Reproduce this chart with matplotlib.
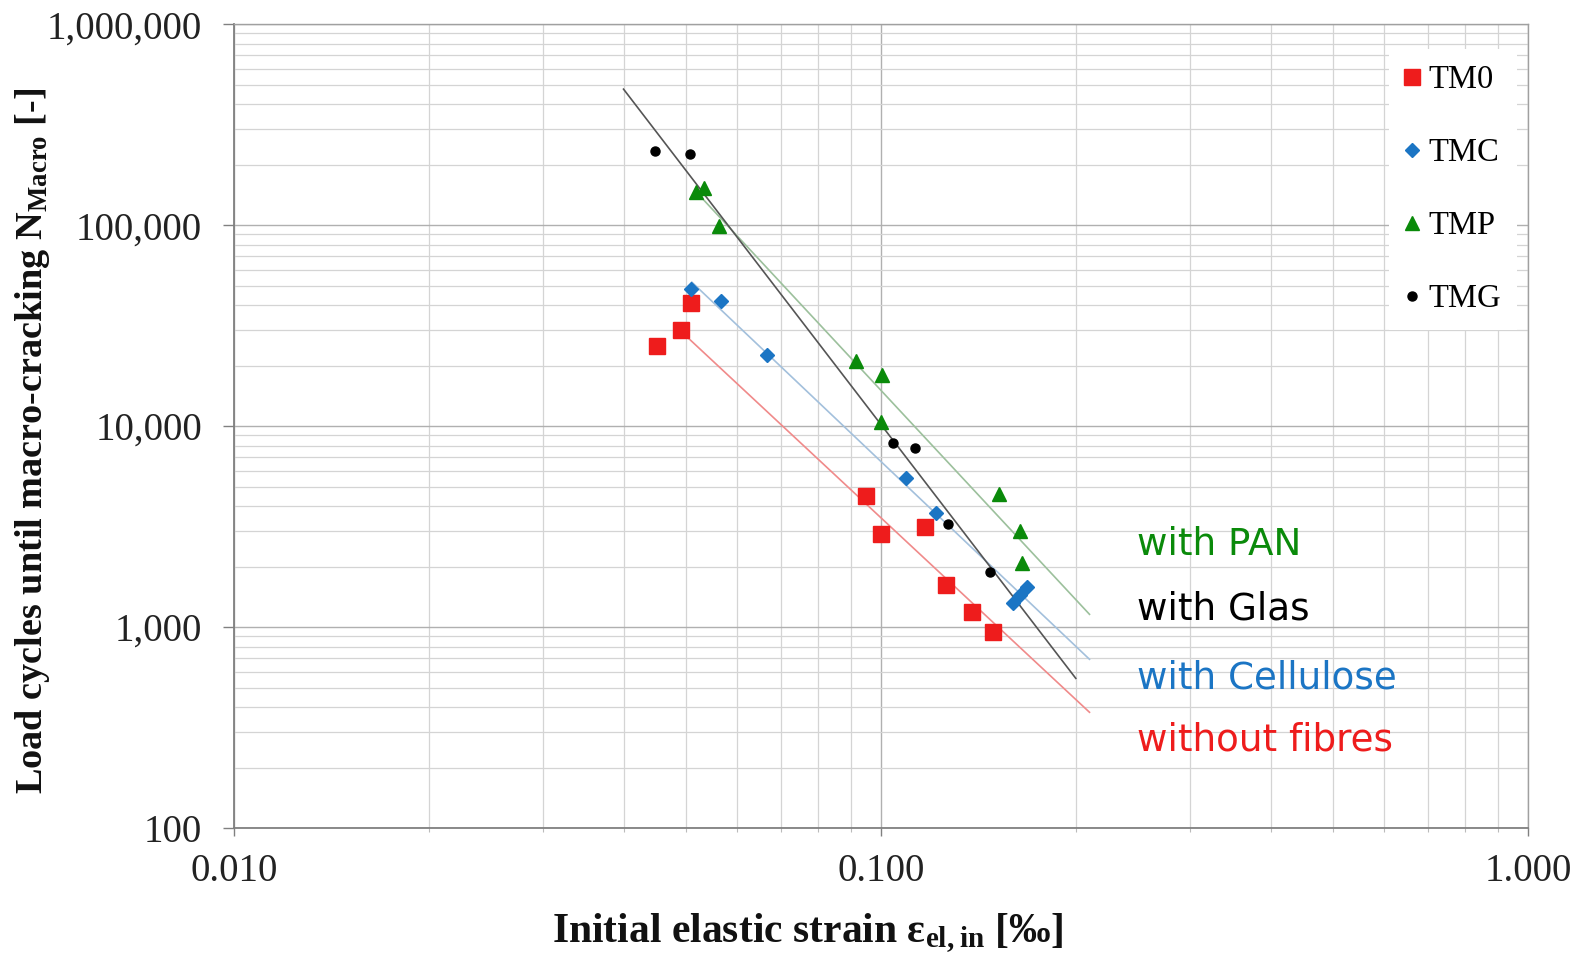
import numpy as np
import matplotlib
matplotlib.use("Agg")
import matplotlib.pyplot as plt
from matplotlib.ticker import LogLocator, NullFormatter

plt.rcParams['mathtext.default'] = 'regular'
SERIF = ['Liberation Serif', 'DejaVu Serif']

# ---- data ----
tm0_x = [0.0450, 0.0490, 0.0508, 0.0949, 0.1000, 0.1169, 0.1260, 0.1384, 0.1492]
tm0_y = [25000, 30200, 41200, 4480, 2890, 3130, 1620, 1190, 950]

tmc_x = [0.0508, 0.0566, 0.0666, 0.1092, 0.1216, 0.1597, 0.1638, 0.1680]
tmc_y = [47900, 41700, 22600, 5520, 3680, 1320, 1440, 1580]

tmp_x = [0.0517, 0.0533, 0.0562, 0.0916, 0.1002, 0.1000, 0.1520, 0.1638, 0.1650]
tmp_y = [146900, 153800, 99200, 21100, 17900, 10500, 4590, 2990, 2090]

tmg_x = [0.0447, 0.0507, 0.1042, 0.1128, 0.1269, 0.1474]
tmg_y = [233000, 225000, 8270, 7800, 3240, 1880]

series_names = ['TM0', 'TMC', 'TMP', 'TMG']
trend_start = [0.049, 0.051, 0.052, 0.040]
trend_end = [0.210, 0.210, 0.210, 0.200]

annot_texts = ['with PAN', 'with Glas', 'with Cellulose', 'without fibres']

x_ticks = [0.01, 0.1, 1.0]
x_ticklabels = ['0.010', '0.100', '1.000']
y_ticks = [100, 1000, 10000, 100000, 1000000]
y_ticklabels = ['100', '1,000', '10,000', '100,000', '1,000,000']

# ---- styles ----
mk_color = ['#ee1c1c', '#1b75c4', '#0a8a0a', '#000000']
line_color = ['#f08a8a', '#a3c0dc', '#9cc09c', '#555555']
markers = ['s', 'D', '^', 'o']
msizes = [11, 7, 10, 6.5]
annot_colors = ['#0a8a0a', '#000000', '#1b75c4', '#ee1c1c']
annot_y = [0.353, 0.2725, 0.186, 0.109]

fig = plt.figure(figsize=(15.81, 9.60), dpi=100)
ax = fig.add_axes([0.148, 0.1375, 0.8185, 0.8373])

ax.set_xscale('log')
ax.set_yscale('log')
ax.set_xlim(0.01, 1.0)
ax.set_ylim(100, 1000000)

xs = [tm0_x, tmc_x, tmp_x, tmg_x]
ys = [tm0_y, tmc_y, tmp_y, tmg_y]

# trend lines (power-law fits)
for i in range(4):
    lx = np.log10(xs[i]); ly = np.log10(ys[i])
    b, a = np.polyfit(lx, ly, 1)
    xx = np.array([trend_start[i], trend_end[i]])
    ax.plot(xx, 10 ** (a + b * np.log10(xx)), color=line_color[i], lw=1.2, zorder=2)

for i in range(4):
    ax.plot(xs[i], ys[i], linestyle='none', marker=markers[i], ms=msizes[i],
            color=mk_color[i], mec=mk_color[i], label=series_names[i], zorder=3)

# grid
ax.grid(True, which='major', color='#b0b0b0', lw=1.0, zorder=0)
ax.grid(True, which='minor', color='#d4d4d4', lw=0.9, zorder=0)
ax.set_axisbelow(True)

ax.xaxis.set_minor_locator(LogLocator(base=10, subs=np.arange(2, 10)))
ax.yaxis.set_minor_locator(LogLocator(base=10, subs=np.arange(2, 10)))
ax.xaxis.set_minor_formatter(NullFormatter())
ax.yaxis.set_minor_formatter(NullFormatter())
ax.set_xticks(x_ticks)
ax.set_xticklabels(x_ticklabels)
ax.set_yticks(y_ticks)
ax.set_yticklabels(y_ticklabels)

for lab in ax.get_xticklabels() + ax.get_yticklabels():
    lab.set_family(SERIF)
    lab.set_fontsize(28)
    lab.set_color('#222222')

ax.tick_params(axis='y', which='major', direction='out', length=8, width=1, color='#808080', pad=15)
ax.tick_params(axis='y', which='minor', length=0)
ax.tick_params(axis='x', which='major', direction='out', length=6, width=1, color='#808080', pad=12)
ax.tick_params(axis='x', which='minor', direction='out', length=3, width=0.8, color='#bbbbbb')

for s in ['left', 'bottom']:
    ax.spines[s].set_color('#808080')
    ax.spines[s].set_linewidth(1.3)
for s in ['top', 'right']:
    ax.spines[s].set_color('#a0a0a0')
    ax.spines[s].set_linewidth(1.0)

ax.set_ylabel('Load cycles until macro-cracking N$_{Macro}$ [-]', family=SERIF,
              fontweight='bold', fontsize=27.5, color='#111111')
ax.yaxis.set_label_coords(-0.141, 0.482)
ax.set_xlabel('Initial elastic strain ε$_{el, in}$ [‰]', family=SERIF,
              fontweight='bold', fontsize=30, color='#111111')
ax.xaxis.set_label_coords(0.4435, -0.104)

leg = ax.legend(loc='upper right', bbox_to_anchor=(1.004, 0.99), prop={'family': SERIF, 'size': 23.5},
                labelspacing=1.3, handlelength=0.4, handletextpad=0.3, borderpad=0.5,
                frameon=True, fancybox=False)
leg.get_frame().set_facecolor('white')
leg.get_frame().set_edgecolor('none')
leg.get_frame().set_alpha(1)

for t, c, yy in zip(annot_texts, annot_colors, annot_y):
    ax.text(0.698, yy, t, transform=ax.transAxes, color=c, fontsize=26.8,
            family='DejaVu Sans', ha='left', va='center', zorder=5)

fig.savefig('out.png', dpi=100)
